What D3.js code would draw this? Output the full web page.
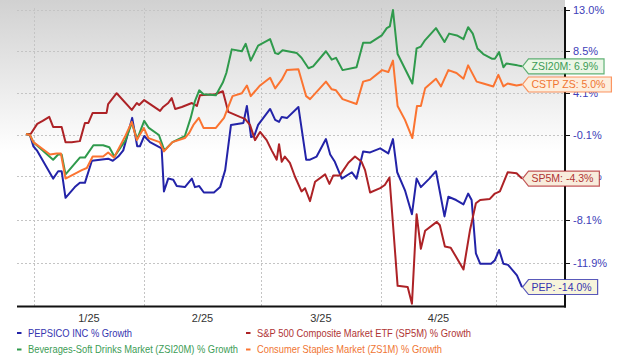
<!DOCTYPE html>
<html><head><meta charset="utf-8">
<script src="https://cdn.jsdelivr.net/npm/d3@7"></script>
<style>body{margin:0;background:#fff}svg{display:block;font-family:"Liberation Sans",Arial,sans-serif}</style>
</head><body><svg id="c" width="620" height="355"></svg>
<script>
// ---- data (x = days since 2024-12-31, y = % growth) ----
const seriesNames = ["PEPSICO INC % Growth", "S&P 500 Composite Market ETF (SP5M) % Growth",
  "Beverages-Soft Drinks Market (ZSI20M) % Growth", "Consumer Staples Market (ZS1M) % Growth"];
const endLabels = ["PEP: -14.0%", "SP5M: -4.3%", "ZSI20M: 6.9%", "CSTP ZS: 5.0%"];
const yTickValues = [13.0, 8.5, 4.1, -0.1, -4.1, -8.1, -11.9];
const yTickLabels = ["13.0%", "8.5%", "4.1%", "-0.1%", "-4.1%", "-8.1%", "-11.9%"];
const monthLabels = ["1/25", "2/25", "3/25", "4/25"];
const monthBoundaries = [2, 30.5, 60.6, 91.6, 121.3];

const pep = [[0,0.0],[1.0,-0.1],[1.9,-1.2],[2.8,-1.6],[7.0,-4.3],[8.3,-3.6],[9.2,-3.6],[10.2,-6.1],[12.6,-5.1],[13.9,-4.7],[15.2,-4.7],[17.0,-2.6],[19.1,-2.5],[21.2,-2.4],[22.4,-2.6],[23.8,-2.2],[25.1,-1.6],[27.4,1.6],[28.7,-1.2],[29.4,-1.2],[30.5,-0.2],[32.0,-0.8],[35.0,-1.4],[35.6,-5.5],[36.7,-4.3],[38.0,-4.4],[38.9,-5.0],[41.0,-5.1],[42.8,-4.3],[43.6,-5.1],[44.7,-5.0],[45.9,-5.6],[48.5,-5.6],[50.1,-5.1],[51.4,-3.5],[52.9,0.9],[56.1,1.1],[57.0,2.8],[58.1,-0.3],[58.9,-0.2],[59.9,0.9],[63.0,2.5],[64.3,1.4],[65.3,1.2],[66.0,1.7],[67.4,1.6],[70.3,2.7],[72.3,-2.5],[73.3,-2.5],[75.0,-2.2],[77.4,-0.5],[78.5,-2.0],[79.7,-2.7],[81.5,-4.3],[84.1,-3.7],[85.3,-4.3],[87.0,-1.7],[88.8,-1.8],[91.4,-1.4],[93.5,-1.9],[94.7,-0.5],[95.8,-3.7],[97.8,-5.4],[99.6,-7.6],[100.8,-4.3],[101.9,-5.1],[104.1,-4.3],[105.8,-3.6],[108.0,-7.8],[109.0,-6.0],[111.0,-6.3],[112.9,-6.7],[114.1,-5.7],[115.0,-6.3],[116.1,-11.1],[117.2,-12.0],[120.0,-12.0],[121.0,-11.7],[122.1,-10.8],[123.2,-12.0],[124.4,-12.1],[126.7,-13.0],[128,-14.0]];

const sp5m = [[0,0.0],[1.2,0.0],[2.9,1.0],[4.3,1.3],[6.0,1.7],[7.0,0.7],[9.2,0.7],[10.2,-0.8],[11.8,-0.8],[13.9,-0.7],[15.2,1.1],[16.1,1.1],[17.2,2.1],[19.5,2.1],[20.8,2.1],[21.2,3.0],[23.4,4.1],[27.3,2.4],[28.6,3.1],[29.2,2.9],[30.5,3.4],[34.6,2.3],[35.4,2.7],[36.7,3.1],[37.6,3.6],[38.5,2.5],[40.2,2.7],[42.8,3.1],[44.1,2.8],[44.9,3.9],[48.8,4.0],[50.8,4.3],[52.2,2.2],[55.2,1.7],[56.5,1.5],[57.8,0.9],[59.1,-0.6],[60.4,0.2],[62.1,-0.6],[63.4,-1.6],[64.7,-2.5],[65.3,-1.0],[66.0,-2.7],[66.8,-2.2],[68.1,-2.8],[69.4,-4.1],[71.1,-5.5],[72.0,-5.2],[73.3,-6.4],[74.6,-4.6],[77.2,-3.9],[78.3,-4.8],[79.3,-4.0],[81.0,-4.0],[83.2,-2.8],[84.9,-2.2],[86.6,-2.7],[87.5,-3.5],[88.8,-5.6],[91.4,-5.2],[92.6,-4.9],[93.8,-4.2],[95.9,-13.9],[98.5,-14.0],[99.6,-15.4],[100.8,-7.6],[101.9,-10.7],[103.0,-9.1],[106.0,-8.3],[106.8,-8.6],[108.1,-10.5],[109.6,-10.6],[112.9,-12.5],[114.6,-9.0],[116.1,-6.6],[117.2,-6.3],[119.7,-6.2],[121.0,-5.7],[122.3,-5.5],[124.3,-3.7],[126.6,-3.8],[128,-4.3]];

const zsi20m = [[0,0.0],[1.0,-0.1],[1.9,-0.8],[7.0,-2.5],[8.3,-2.0],[9.2,-2.0],[10.2,-3.9],[13.9,-2.3],[15.2,-2.3],[17.4,-1.1],[19.9,-1.1],[21.5,-1.3],[22.8,-2.2],[25.7,-0.6],[27.3,1.1],[28.7,-0.5],[30.5,1.3],[31.7,0.6],[34.3,-0.1],[35.7,-1.6],[37.8,-0.8],[41.0,-0.2],[42.5,1.6],[43.6,3.3],[44.7,4.4],[45.8,4.0],[49.0,3.9],[50.8,5.2],[51.7,6.2],[53.1,8.7],[55.7,8.5],[56.7,9.3],[58.0,7.5],[59.9,9.1],[63.0,9.8],[64.3,8.3],[65.1,8.2],[66.2,8.6],[69.9,8.3],[71.1,7.8],[72.9,6.7],[74.1,6.9],[77.4,8.5],[78.9,7.6],[80.0,7.8],[81.7,6.5],[85.3,6.8],[87.0,9.4],[88.8,9.4],[91.8,10.2],[93.1,11.0],[93.9,11.2],[94.7,13.0],[95.9,8.2],[99.7,5.1],[100.8,8.8],[101.9,9.0],[103.0,9.7],[105.8,11.0],[108.0,9.5],[109.2,10.4],[111.2,10.2],[112.9,9.8],[114.1,11.1],[115.3,10.4],[116.5,8.8],[118.0,8.2],[120.2,7.7],[121.0,7.7],[122.1,8.4],[123.2,6.8],[124.0,7.2],[126.8,7.0],[128,6.9]];

const zs1m = [[0,0.0],[1.0,-0.1],[1.9,-0.8],[6.2,-2.0],[7.9,-1.9],[9.0,-1.9],[10.2,-4.3],[14.4,-3.5],[15.7,-3.3],[17.2,-2.2],[19.9,-2.2],[21.2,-1.8],[22.7,-2.3],[25.5,-0.3],[27.3,1.2],[28.6,-0.6],[30.4,0.6],[31.6,-0.4],[34.5,-0.8],[35.6,-1.7],[37.8,-0.8],[41.0,-0.4],[42.1,0.1],[43.2,0.9],[44.6,1.6],[45.8,0.6],[49.0,0.6],[51.1,1.6],[52.2,2.7],[53.3,3.8],[55.7,4.1],[57.0,4.9],[58.0,3.8],[60.4,4.9],[63.0,5.7],[64.3,4.6],[66.0,5.5],[67.3,6.5],[70.3,6.6],[72.3,3.8],[73.3,3.5],[77.4,5.3],[78.9,4.5],[80.0,4.4],[81.7,3.5],[85.3,3.0],[87.0,5.3],[88.8,5.5],[91.9,6.5],[93.5,6.3],[94.7,7.5],[95.9,2.8],[97.8,1.4],[99.7,-0.4],[100.9,2.8],[101.9,2.8],[103.0,4.6],[105.8,5.6],[107.1,4.8],[109.0,6.5],[111.1,6.2],[112.9,5.6],[114.1,7.0],[116.3,5.3],[118.0,5.1],[120.6,4.8],[121.9,6.0],[123.2,4.8],[124.3,5.1],[126.6,4.9],[128,5.0]];

const allSeries = [pep, sp5m, zsi20m, zs1m];
const lineColors = ["#2323a8", "#ad2226", "#2f9a4c", "#fb7431"];
const textColors = ["#3535b0", "#b03434", "#3c9c55", "#f07532"];
const labelFills = ["#f7f4dc", "#f8ecdc", "#ebf6e6", "#fdeedd"];

// ---- drawing ----
const svg = d3.select("#c");
const plotL = 17, plotR = 565, plotT = 8, plotB = 306;

const x = d3.scaleLinear().domain([0, 128]).range([26, 522]);
const y = d3.scaleLog().domain([1, 1.13]).range([134, 10]);
const yv = v => y(1 + v / 100);

const defs = svg.append("defs");
const grad = defs.append("linearGradient").attr("id", "bg").attr("x1", 0).attr("y1", 0).attr("x2", 0).attr("y2", 1);
grad.append("stop").attr("offset", "0%").attr("stop-color", "#d1d1d1");
grad.append("stop").attr("offset", "50%").attr("stop-color", "#ffffff");
grad.append("stop").attr("offset", "100%").attr("stop-color", "#ffffff");
svg.append("rect").attr("x", 0).attr("y", 0).attr("width", plotR).attr("height", plotB).attr("fill", "url(#bg)");

// horizontal gridlines
svg.append("g").selectAll("line").data(yTickValues).join("line")
  .attr("x1", plotL).attr("x2", plotR).attr("y1", d => Math.round(yv(d)) + 0.5).attr("y2", d => Math.round(yv(d)) + 0.5)
  .attr("stroke", "#c4c4c4").attr("stroke-dasharray", "2,2").attr("stroke-width", 1);
// vertical gridlines
svg.append("g").selectAll("line").data(monthBoundaries).join("line")
  .attr("x1", d => Math.round(x(d)) + 0.5).attr("x2", d => Math.round(x(d)) + 0.5).attr("y1", plotT).attr("y2", plotB)
  .attr("stroke", "#c4c4c4").attr("stroke-dasharray", "2,2").attr("stroke-width", 1);

// month labels centered between boundaries
svg.append("g").selectAll("text").data(monthLabels).join("text")
  .attr("x", (d, i) => (x(monthBoundaries[i]) + x(monthBoundaries[i + 1])) / 2)
  .attr("y", 322).attr("text-anchor", "middle").attr("font-size", 11).attr("fill", "#333").text(d => d);

// lines
const line = d3.line().x(d => x(d[0])).y(d => yv(d[1]));
svg.append("g").selectAll("path").data(allSeries).join("path")
  .attr("d", line).attr("fill", "none").attr("stroke", (d, i) => lineColors[i])
  .attr("stroke-width", 2).attr("stroke-linejoin", "round");

// axes lines
svg.append("line").attr("x1", plotL).attr("x2", plotR + 1).attr("y1", plotB + 0.5).attr("y2", plotB + 0.5)
  .attr("stroke", "#111").attr("stroke-width", 2.2);
svg.append("line").attr("x1", plotR).attr("x2", plotR).attr("y1", plotT - 1).attr("y2", plotB + 1.5)
  .attr("stroke", "#111").attr("stroke-width", 2);

// right axis ticks & labels
const yt = svg.append("g");
yt.selectAll("line").data(yTickValues).join("line")
  .attr("x1", plotR).attr("x2", plotR + 5).attr("y1", d => Math.round(yv(d)) + 0.5).attr("y2", d => Math.round(yv(d)) + 0.5)
  .attr("stroke", "#111").attr("stroke-width", 1);
yt.selectAll("text").data(yTickValues).join("text")
  .attr("x", plotR + 8).attr("y", d => yv(d) + 4).attr("font-size", 11).attr("fill", "#4040b8")
  .text((d, i) => yTickLabels[i]);

// end labels
const lg = svg.append("g");
allSeries.forEach((s, i) => {
  const last = s[s.length - 1];
  const tx = x(last[0]) + 0.5, ty = yv(last[1]);
  const g = lg.append("g");
  const path = g.append("path");
  const t = g.append("text").attr("x", tx + 9).attr("y", ty + 3.7).attr("font-size", 10.5)
    .attr("fill", textColors[i]).text(endLabels[i]);
  const tw = t.node().getComputedTextLength();
  const bw = Math.max(tw + 15, 70), hh = 7.5;
  path.attr("d", `M${tx},${ty} L${tx + 6},${ty - hh} L${tx + bw},${ty - hh} L${tx + bw},${ty + hh} L${tx + 6},${ty + hh} Z`)
    .attr("fill", labelFills[i]).attr("stroke", lineColors[i]).attr("stroke-opacity", 0.75).attr("stroke-width", 1.2);
});

// legend
const legPos = [[17, 333], [246, 333], [17, 349.5], [246, 349.5]];
const legWidths = [104, 214, 210, 185];
const leg = svg.append("g");
seriesNames.forEach((n, i) => {
  const [lx, ly] = legPos[i];
  leg.append("line").attr("x1", lx).attr("x2", lx + 4.5).attr("y1", ly).attr("y2", ly)
    .attr("stroke", lineColors[i]).attr("stroke-width", 2);
  leg.append("text").attr("x", lx + 11).attr("y", ly + 3.5).attr("font-size", 10.5)
    .attr("fill", textColors[i]).attr("textLength", legWidths[i]).attr("lengthAdjust", "spacingAndGlyphs").text(n);
});
</script></body></html>
